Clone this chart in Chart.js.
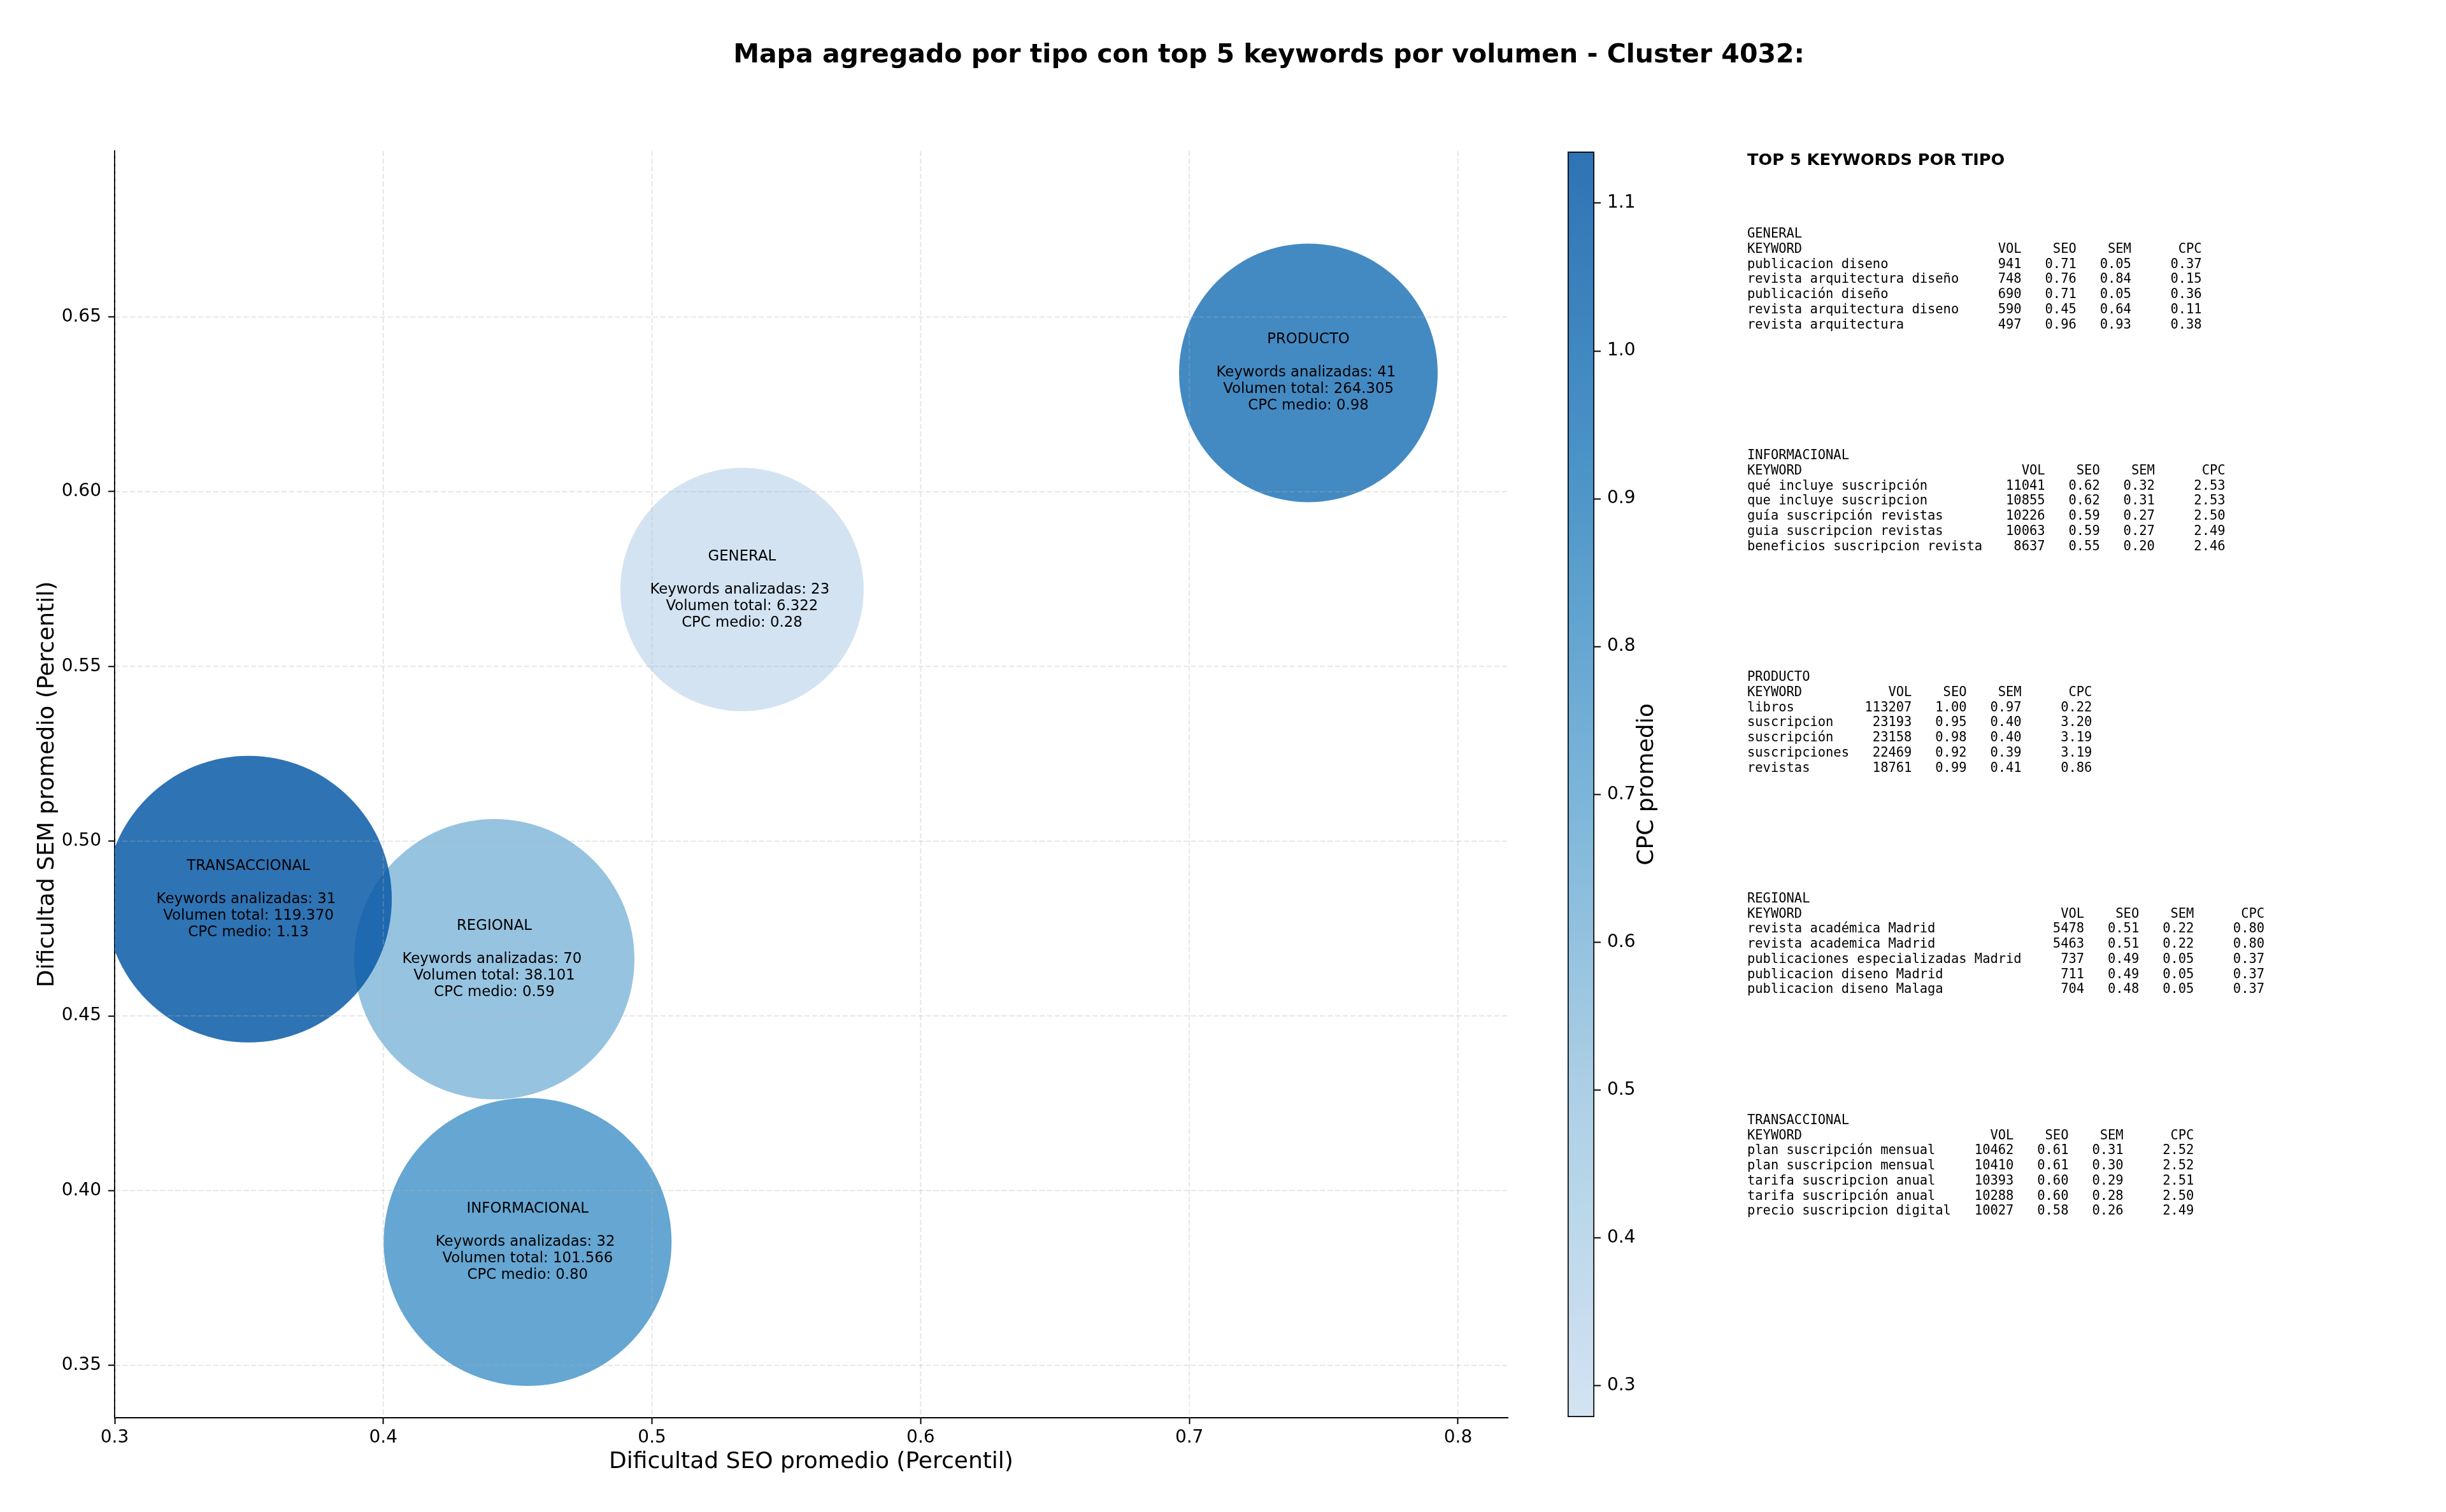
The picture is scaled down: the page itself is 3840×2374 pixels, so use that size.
<!DOCTYPE html>
<html>
<head>
<meta charset="utf-8">
<script src="https://cdn.jsdelivr.net/npm/chart.js@4.4.1/dist/chart.umd.min.js"></script>
<style>
html,body{margin:0;padding:0;background:#fff;}
#wrap{position:relative;width:3840px;height:2374px;overflow:hidden;background:#fff;}
#wrap canvas{position:absolute;left:0;top:0;}
#title{position:absolute;left:1992px;top:63.5px;transform:translateX(-50%);white-space:nowrap;
  font-family:'DejaVu Sans';font-weight:bold;font-size:41px;line-height:41px;color:#000;}
#panelTitle{position:absolute;left:2743px;top:238px;white-space:pre;font-family:'DejaVu Sans';
  font-weight:bold;font-size:25.6px;line-height:25.6px;color:#000;}
.kwblock{position:absolute;left:2743px;margin:0;white-space:pre;font-family:'DejaVu Sans Mono';
  font-size:20.45px;line-height:23.77px;color:#000;}
</style>
</head>
<body>
<div id="wrap">
  <canvas id="main" width="3840" height="2374"></canvas>
  <canvas id="cbar" width="3840" height="2374"></canvas>
  <div id="title">Mapa agregado por tipo con top 5 keywords por volumen - Cluster 4032:</div>
  <div id="panelTitle">TOP 5 KEYWORDS POR TIPO</div>
</div>
<script>
// ---------------- DATA ----------------
const tipos = ['GENERAL', 'INFORMACIONAL', 'PRODUCTO', 'REGIONAL', 'TRANSACCIONAL'];
const seoPromedio = [0.5335, 0.4537, 0.7443, 0.4413, 0.3498];
const semPromedio = [0.5720, 0.3853, 0.6340, 0.4662, 0.4834];
const cpcMedio = [0.2787, 0.80, 0.98, 0.59, 1.1349];
const keywordsAnalizadas = [23, 32, 41, 70, 31];
const volumenTotal = [6322, 101566, 264305, 38101, 119370];

const xTickValues = [0.3, 0.4, 0.5, 0.6, 0.7, 0.8];
const yTickValues = [0.35, 0.40, 0.45, 0.50, 0.55, 0.60, 0.65];
const cbTickValues = [0.3, 0.4, 0.5, 0.6, 0.7, 0.8, 0.9, 1.0, 1.1];

const topGENERAL = [
  ['publicacion diseno', 941, 0.71, 0.05, 0.37],
  ['revista arquitectura diseño', 748, 0.76, 0.84, 0.15],
  ['publicación diseño', 690, 0.71, 0.05, 0.36],
  ['revista arquitectura diseno', 590, 0.45, 0.64, 0.11],
  ['revista arquitectura', 497, 0.96, 0.93, 0.38]
];
const topINFORMACIONAL = [
  ['qué incluye suscripción', 11041, 0.62, 0.32, 2.53],
  ['que incluye suscripcion', 10855, 0.62, 0.31, 2.53],
  ['guía suscripción revistas', 10226, 0.59, 0.27, 2.50],
  ['guia suscripcion revistas', 10063, 0.59, 0.27, 2.49],
  ['beneficios suscripcion revista', 8637, 0.55, 0.20, 2.46]
];
const topPRODUCTO = [
  ['libros', 113207, 1.00, 0.97, 0.22],
  ['suscripcion', 23193, 0.95, 0.40, 3.20],
  ['suscripción', 23158, 0.98, 0.40, 3.19],
  ['suscripciones', 22469, 0.92, 0.39, 3.19],
  ['revistas', 18761, 0.99, 0.41, 0.86]
];
const topREGIONAL = [
  ['revista académica Madrid', 5478, 0.51, 0.22, 0.80],
  ['revista academica Madrid', 5463, 0.51, 0.22, 0.80],
  ['publicaciones especializadas Madrid', 737, 0.49, 0.05, 0.37],
  ['publicacion diseno Madrid', 711, 0.49, 0.05, 0.37],
  ['publicacion diseno Malaga', 704, 0.48, 0.05, 0.37]
];
const topTRANSACCIONAL = [
  ['plan suscripción mensual', 10462, 0.61, 0.31, 2.52],
  ['plan suscripcion mensual', 10410, 0.61, 0.30, 2.52],
  ['tarifa suscripcion anual', 10393, 0.60, 0.29, 2.51],
  ['tarifa suscripción anual', 10288, 0.60, 0.28, 2.50],
  ['precio suscripcion digital', 10027, 0.58, 0.26, 2.49]
];
const topTables = [topGENERAL, topINFORMACIONAL, topPRODUCTO, topREGIONAL, topTRANSACCIONAL];

// ---------------- STYLE ----------------
const bubbleRadiusPx = [191, 226, 203, 220, 225];
const bubbleAlpha = 0.85;
const cmapStops = [
  [0.00, [211, 227, 242]],
  [0.25, [174, 208, 230]],
  [0.50, [122, 180, 217]],
  [0.75, [75, 148, 200]],
  [1.00, [46, 115, 180]]
];
const FONT = 'DejaVu Sans';

const cbMin = Math.min(...cpcMedio);
const cbMax = Math.max(...cpcMedio);

function cmap(t) {
  t = Math.max(0, Math.min(1, t));
  for (let i = 1; i < cmapStops.length; i++) {
    const [t1, c1] = cmapStops[i];
    const [t0, c0] = cmapStops[i - 1];
    if (t <= t1) {
      const f = (t - t0) / (t1 - t0);
      return c0.map((c, k) => c + (c1[k] - c) * f);
    }
  }
  return cmapStops[cmapStops.length - 1][1];
}
function normCpc(v) { return (v - cbMin) / (cbMax - cbMin); }
function opaqueColor(v) {
  const c = cmap(normCpc(v));
  return `rgb(${c.map(Math.round).join(',')})`;
}
function bubbleColor(v) {
  const c = cmap(normCpc(v)).map(ch => Math.max(0, Math.min(255, (ch - 255 * (1 - bubbleAlpha)) / bubbleAlpha)));
  return `rgba(${c.map(Math.round).join(',')},${bubbleAlpha})`;
}
function fmtThousands(n) { return String(n).replace(/\B(?=(\d{3})+(?!\d))/g, '.'); }

// ---------------- TABLE PANEL ----------------
(function buildPanel() {
  const wrap = document.getElementById('wrap');
  topTables.forEach((rows, i) => {
    const maxLen = Math.max('KEYWORD'.length, ...rows.map(r => r[0].length));
    const lines = [tipos[i]];
    lines.push('KEYWORD'.padEnd(maxLen) + 'VOL'.padStart(8) + 'SEO'.padStart(7) + 'SEM'.padStart(7) + 'CPC'.padStart(9));
    rows.forEach(r => {
      lines.push(r[0].padEnd(maxLen) + String(r[1]).padStart(8) + r[2].toFixed(2).padStart(7) +
        r[3].toFixed(2).padStart(7) + r[4].toFixed(2).padStart(9));
    });
    const pre = document.createElement('pre');
    pre.className = 'kwblock';
    pre.style.top = (355.2 + i * 347.9) + 'px';
    pre.textContent = lines.join('\n');
    wrap.appendChild(pre);
  });
})();

// ---------------- MAIN CHART ----------------
const gridPlugin = {
  id: 'dashedGrid',
  afterDatasetsDraw(chart) {
    const {ctx, chartArea: a, scales: {x, y}} = chart;
    ctx.save();
    ctx.beginPath();
    ctx.rect(a.left, a.top, a.right - a.left, a.bottom - a.top);
    ctx.clip();
    ctx.strokeStyle = 'rgba(176,176,176,0.3)';
    ctx.lineWidth = 2;
    ctx.setLineDash([8.3, 3.6]);
    x.ticks.forEach(t => {
      const px = x.getPixelForValue(t.value);
      ctx.beginPath(); ctx.moveTo(px, a.top); ctx.lineTo(px, a.bottom); ctx.stroke();
    });
    y.ticks.forEach(t => {
      const py = y.getPixelForValue(t.value);
      ctx.beginPath(); ctx.moveTo(a.left, py); ctx.lineTo(a.right, py); ctx.stroke();
    });
    ctx.restore();
  }
};

const labelPlugin = {
  id: 'bubbleLabels',
  afterDatasetsDraw(chart) {
    const {ctx, scales: {x, y}} = chart;
    ctx.save();
    ctx.fillStyle = '#000';
    ctx.font = `22.8px '${FONT}'`;
    ctx.textAlign = 'center';
    ctx.textBaseline = 'middle';
    const lh = 26;
    tipos.forEach((t, i) => {
      const cx = x.getPixelForValue(seoPromedio[i]);
      const cy = y.getPixelForValue(semPromedio[i]);
      const lines = [
        t,
        '',
        `Keywords analizadas: ${keywordsAnalizadas[i]} `,
        `Volumen total: ${fmtThousands(volumenTotal[i])}`,
        `CPC medio: ${cpcMedio[i].toFixed(2)}`
      ];
      lines.forEach((s, k) => { if (s) ctx.fillText(s, cx, cy + (k - 2) * lh); });
    });
    ctx.restore();
  }
};

const tickFont = {family: FONT, size: 28, lineHeight: 1.2};
const labelFont = {family: FONT, size: 36, lineHeight: 1.2};

new Chart(document.getElementById('main').getContext('2d'), {
  type: 'bubble',
  data: {
    datasets: [{
      data: tipos.map((t, i) => ({x: seoPromedio[i], y: semPromedio[i], r: bubbleRadiusPx[i]})),
      backgroundColor: cpcMedio.map(bubbleColor),
      borderWidth: 0,
      hoverBorderWidth: 0,
      clip: 0
    }]
  },
  options: {
    responsive: false,
    animation: false,
    events: [],
    layout: {autoPadding: false, padding: {left: 0, top: 237, right: 1473, bottom: 0}},
    plugins: {legend: {display: false}, tooltip: {enabled: false}, title: {display: false}},
    scales: {
      x: {
        type: 'linear', position: 'bottom', min: 0.3, max: 0.8185, z: 1,
        afterFit: s => { s.height = 148; },
        afterBuildTicks: s => { s.ticks = xTickValues.map(v => ({value: v})); },
        ticks: {font: tickFont, color: '#000', padding: 5, maxRotation: 0, autoSkip: false,
          callback: v => Number(v).toFixed(1)},
        grid: {drawOnChartArea: false, drawTicks: true, tickLength: 10, tickWidth: 2, tickColor: '#000'},
        border: {display: true, color: '#000', width: 2},
        title: {display: true, text: 'Dificultad SEO promedio (Percentil)', font: labelFont, color: '#000',
          padding: {top: 0, bottom: 57}}
      },
      y: {
        type: 'linear', position: 'left', min: 0.335, max: 0.6975, z: 1,
        afterFit: s => { s.width = 180; },
        afterBuildTicks: s => { s.ticks = yTickValues.map(v => ({value: v})); },
        ticks: {font: tickFont, color: '#000', padding: 11, autoSkip: false,
          callback: v => Number(v).toFixed(2)},
        grid: {drawOnChartArea: false, drawTicks: true, tickLength: 10, tickWidth: 2, tickColor: '#000'},
        border: {display: true, color: '#000', width: 2},
        title: {display: true, text: 'Dificultad SEM promedio (Percentil)', font: labelFont, color: '#000',
          padding: {top: 53, bottom: 0}}
      }
    }
  },
  plugins: [gridPlugin, labelPlugin]
});

// ---------------- COLORBAR ----------------
const cbTitlePlugin = {
  id: 'cbTitle',
  afterDraw(chart) {
    const {ctx, chartArea: a} = chart;
    ctx.save();
    ctx.translate(2586, (a.top + a.bottom) / 2);
    ctx.rotate(-Math.PI / 2);
    ctx.font = `36px '${FONT}'`;
    ctx.fillStyle = '#000';
    ctx.textAlign = 'center';
    ctx.textBaseline = 'middle';
    ctx.fillText('CPC promedio', 0, 0);
    ctx.restore();
  }
};

new Chart(document.getElementById('cbar').getContext('2d'), {
  type: 'bar',
  data: {
    labels: ['CPC'],
    datasets: [{
      data: [[cbMin, cbMax]],
      backgroundColor: (c) => {
        const chart = c.chart;
        const ys = chart.scales && chart.scales.y;
        if (!chart.chartArea || !ys) return opaqueColor((cbMin + cbMax) / 2);
        const y0 = ys.getPixelForValue(cbMin), y1 = ys.getPixelForValue(cbMax);
        const g = chart.ctx.createLinearGradient(0, y0, 0, y1);
        for (let k = 0; k <= 20; k++) {
          const v = cbMin + (cbMax - cbMin) * k / 20;
          g.addColorStop(k / 20, opaqueColor(v));
        }
        return g;
      },
      borderColor: '#000',
      borderWidth: 2,
      borderSkipped: false,
      barPercentage: 1,
      categoryPercentage: 1
    }]
  },
  options: {
    responsive: false,
    animation: false,
    events: [],
    layout: {autoPadding: false, padding: {left: 2461, top: 238, right: 1187, bottom: 149}},
    plugins: {legend: {display: false}, tooltip: {enabled: false}},
    scales: {
      x: {display: false},
      y: {
        type: 'linear', position: 'right', min: cbMin, max: cbMax,
        afterFit: s => { s.width = 150; },
        afterBuildTicks: s => { s.ticks = cbTickValues.map(v => ({value: v})); },
        ticks: {font: tickFont, color: '#000', padding: 10, autoSkip: false,
          callback: v => Number(v).toFixed(1)},
        grid: {drawOnChartArea: false, drawTicks: true, tickLength: 10, tickWidth: 2, tickColor: '#000'},
        border: {display: false}
      }
    }
  },
  plugins: [cbTitlePlugin]
});
</script>
</body>
</html>
